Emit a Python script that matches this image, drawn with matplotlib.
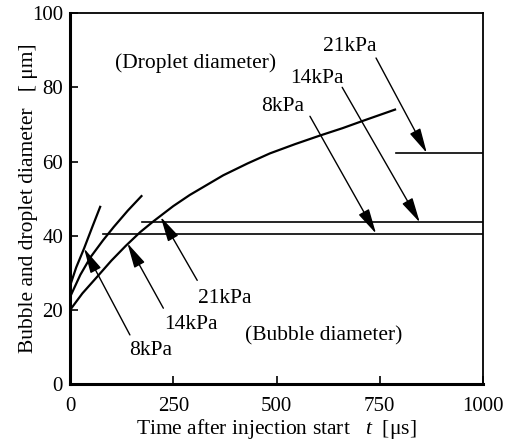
import matplotlib
matplotlib.use("Agg")
import matplotlib.pyplot as plt

plt.rcParams['font.family'] = ['Liberation Serif', 'DejaVu Serif']
plt.rcParams['mathtext.fontset'] = 'custom'
plt.rcParams['mathtext.rm'] = 'Liberation Serif'
plt.rcParams['mathtext.it'] = 'Liberation Serif:italic'

# Droplet diameter curves (t in us, diameter in um)
drop_8_t = [0, 15, 34, 54, 73]
drop_8_d = [26.5, 31.5, 36.6, 42.4, 47.8]
drop_14_t = [0, 25, 50, 80, 106, 140, 173]
drop_14_d = [23.5, 29.5, 34.3, 38.8, 42.4, 46.8, 50.7]
drop_21_t = [0, 30, 66, 100, 135, 170, 203, 250, 290, 371, 430, 484, 545, 605, 660, 710, 787]
drop_21_d = [20, 24.5, 29, 33.3, 37.3, 41, 44, 48, 51, 56.3, 59.5, 62.2, 64.7, 67, 69, 71, 74]

# Bubble diameter (horizontal levels)
bub_8_t = [80, 1000]
bub_8_d = [40.6, 40.6]
bub_14_t = [175, 1000]
bub_14_d = [43.6, 43.6]
bub_21_t = [789, 1000]
bub_21_d = [62.3, 62.3]

x_ticks = [0, 250, 500, 750, 1000]
y_ticks = [0, 20, 40, 60, 80, 100]

# Annotations: (label, text pos, arrow start, arrow tip)
lower_ann = [
    ("8kPa", (196, 9.2), (145, 13.3), (34, 36.6)),
    ("14kPa", (293, 16.0), (226, 20.5), (139, 38.0)),
    ("21kPa", (375, 23.1), (308, 28.0), (219.5, 45.1)),
]
upper_ann = [
    ("8kPa", (516, 74.7), (581, 72.2), (741, 40.6)),
    ("14kPa", (598, 82.5), (659, 80.0), (847, 43.6)),
    ("21kPa", (678, 91.0), (741, 87.9), (864, 62.3)),
]

fig = plt.figure(figsize=(5.13, 4.43), dpi=100)
ax = fig.add_axes([0.1365, 0.1325, 0.805, 0.838])

lw_curve = 1.6
ax.plot(drop_8_t, drop_8_d, color='black', lw=lw_curve)
ax.plot(drop_14_t, drop_14_d, color='black', lw=lw_curve)
ax.plot(drop_21_t, drop_21_d, color='black', lw=lw_curve)
ax.plot(bub_8_t, bub_8_d, color='black', lw=1.2)
ax.plot(bub_14_t, bub_14_d, color='black', lw=1.2)
ax.plot(bub_21_t, bub_21_d, color='black', lw=1.2)

fs = 15.5
for lab, tp, st, tip in lower_ann + upper_ann:
    ax.text(tp[0], tp[1], lab, ha='center', va='center', fontsize=fs)
    ax.annotate('', xy=tip, xytext=st,
                arrowprops=dict(arrowstyle='-|>,head_length=0.85,head_width=0.2',
                                mutation_scale=18, color='black', lw=1.0,
                                shrinkA=0, shrinkB=0))

ax.text(304, 86.5, '(Droplet diameter)', ha='center', va='center', fontsize=fs)
ax.text(615, 13.1, '(Bubble diameter)', ha='center', va='center', fontsize=fs)

ax.set_xlim(0, 1000)
ax.set_ylim(0, 100)
ax.set_xticks(x_ticks)
ax.set_yticks(y_ticks)
ax.set_xticklabels([str(v) for v in x_ticks])
ax.set_yticklabels([str(v) for v in y_ticks])
ax.tick_params(direction='in', length=6, width=1.2, labelsize=15)
ax.tick_params(axis='x', pad=9)
ax.tick_params(axis='y', pad=5)

for side in ['left', 'bottom']:
    ax.spines[side].set_linewidth(2.2)
for side in ['top', 'right']:
    ax.spines[side].set_linewidth(1.3)

ax.set_xlabel('Time after injection start   $t$  [μs]', fontsize=fs, labelpad=1)
ax.set_ylabel('Bubble and droplet diameter   [ μm]', fontsize=fs, labelpad=-4)

fig.savefig('out.png', dpi=100)
